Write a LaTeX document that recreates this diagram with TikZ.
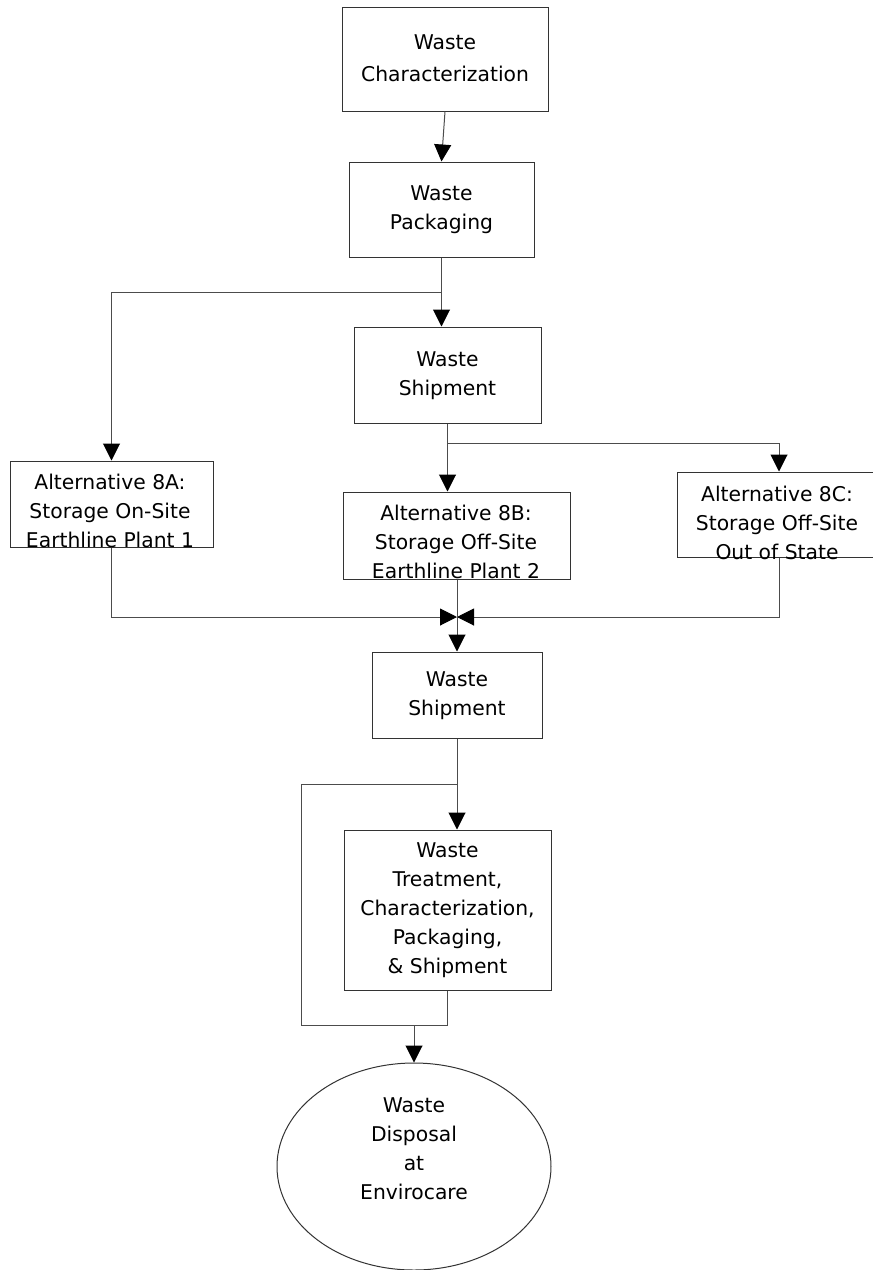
\documentclass[tikz,border=0pt]{standalone}
\usepackage{fontspec}
\setmainfont{DejaVu Sans}
\usetikzlibrary{arrows.meta,shapes.geometric}
\begin{document}
\begin{tikzpicture}[x=1pt,y=-1pt,
  box/.style={draw=black!80, line width=1pt, rectangle, inner sep=0pt, align=center,
              font=\fontsize{20.3}{29}\selectfont},
  lbl/.style={inner sep=0pt, align=center, font=\fontsize{20.3}{29}\selectfont},
  link/.style={draw=black!70, line width=1pt},
  arr/.style={link, -{Triangle[length=17pt,width=17pt,color=black,fill=black]}}]
\clip (0,0) rectangle (873,1270);
\fill[white] (0,0) rectangle (873,1270);

% process boxes
\node[box, minimum width=206pt, minimum height=104pt, font=\fontsize{20.3}{32}\selectfont]
  (char) at (445,59) {\strut Waste\\\strut Characterization};
\node[box, minimum width=185pt, minimum height=95pt]
  (pack) at (441.5,209.5) {\strut Waste\\\strut Packaging};
\node[box, minimum width=187pt, minimum height=96pt]
  (ship1) at (447.5,375) {\strut Waste\\\strut Shipment};

% storage alternatives
\node[box, minimum width=203pt, minimum height=86pt] (altA) at (111.5,504) {};
\node[lbl] (altAt) at (110,512.6)
  {\strut Alternative 8A:\\\strut Storage On-Site\\\strut Earthline Plant 1};
\node[box, minimum width=227pt, minimum height=87pt] (altB) at (456.5,535.5) {};
\node[lbl] (altBt) at (456,543.3)
  {\strut Alternative 8B:\\\strut Storage Off-Site\\\strut Earthline Plant 2};
\node[box, minimum width=210pt, minimum height=85pt] (altC) at (782,514.5) {};
\node[lbl] (altCt) at (777,524.6)
  {\strut Alternative 8C:\\\strut Storage Off-Site\\\strut Out of State};

\node[box, minimum width=170pt, minimum height=86pt]
  (ship2) at (457,695) {\strut Waste\\\strut Shipment};
\node[box, minimum width=207pt, minimum height=160pt]
  (treat) at (447.5,910)
  {\strut Waste\\\strut Treatment,\\\strut Characterization,\\\strut Packaging,\\\strut \& Shipment};

% final disposal
\node[draw=black!80, line width=1pt, ellipse, inner sep=0pt,
      minimum width=274pt, minimum height=207pt] (disp) at (414,1166.5) {};
\node[lbl] (dispt) at (414,1150.4)
  {\strut Waste\\\strut Disposal\\\strut at\\\strut Envirocare};

% connectors
\coordinate (cx) at (779,0);
\coordinate (merge) at (457,617);
\coordinate (splitA) at (pack.south |- 0,292);
\coordinate (splitC) at (ship1.south |- 0,443.5);
\coordinate (loopTop) at (ship2.south |- 0,784);
\coordinate (loopBot) at (treat.south |- 0,1025);

\draw[arr] (char.south) -- (pack.north);
\draw[arr] (pack.south) -- (pack.south |- ship1.north);
\draw[arr] (splitA) -- (splitA -| altA.north) -- (altA.north);
\draw[arr] (ship1.south) -- (ship1.south |- altB.north);
\draw[arr] (splitC) -- (splitC -| cx) -- (cx |- altC.north);

\draw[arr] (altA.south) -- (altA.south |- merge) -- (merge);
\draw[arr] (cx |- altC.south) -- (cx |- merge) -- (merge);
\draw[arr] (merge |- altB.south) -- (merge |- ship2.north);

\draw[arr] (ship2.south) -- (ship2.south |- treat.north);
\draw[link] (loopTop) -- (301,784) -- (301,1025) -- (loopBot);
\draw[link] (treat.south) -- (loopBot);
\draw[arr] (disp.north |- loopBot) -- (disp.north);
\end{tikzpicture}
\end{document}
